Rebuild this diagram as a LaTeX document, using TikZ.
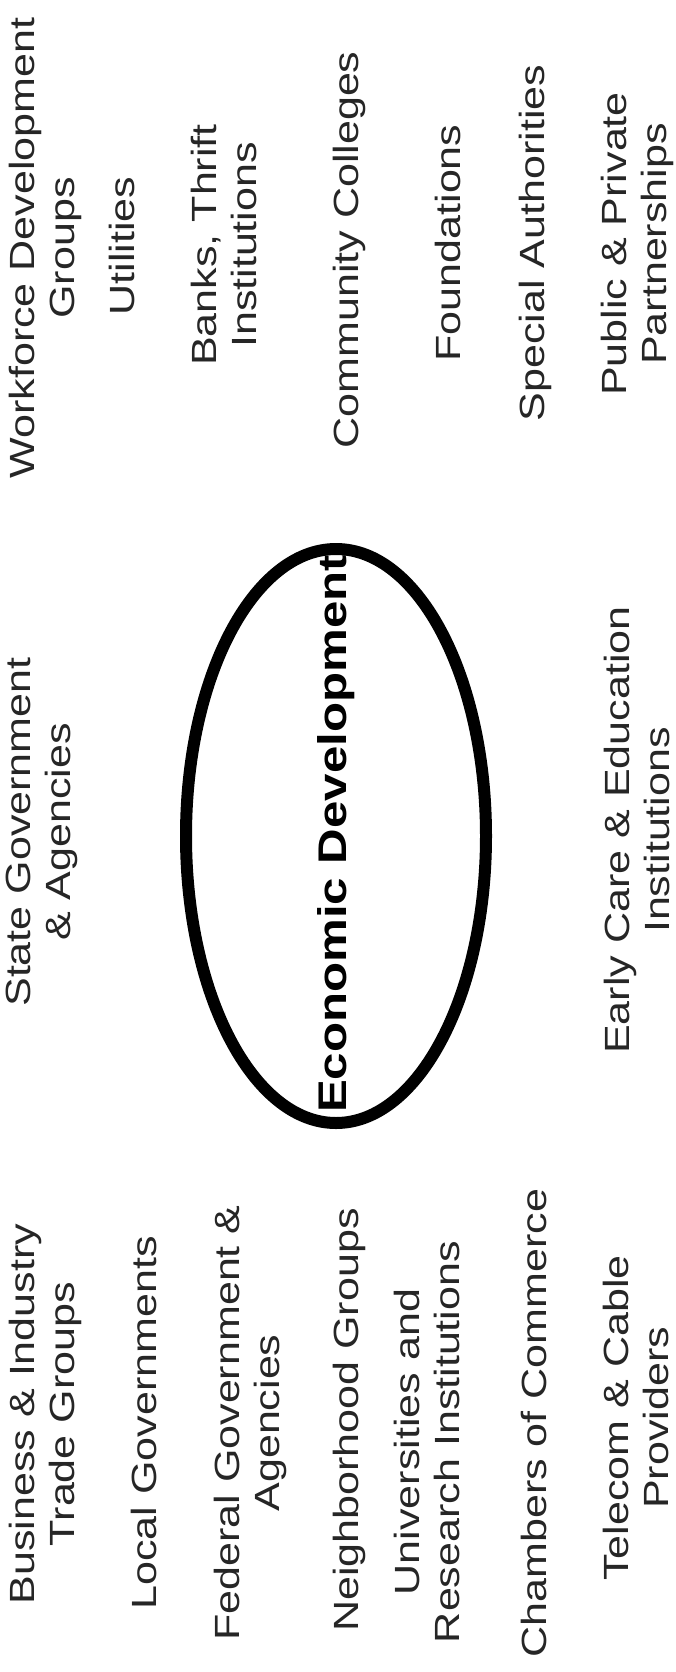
\documentclass[tikz,border=0pt]{standalone}
\usepackage{fontspec}
\newfontfamily\labfont[FakeStretch=1.23]{Liberation Sans}
\usetikzlibrary{shapes.geometric}
\begin{document}
\begin{tikzpicture}[x=1pt,y=-1pt,
  lab/.style={rotate=90, align=center, inner sep=0pt, text=black!85,
    font=\labfont\fontsize{35}{40}\selectfont},
  hub/.style={draw=black, ellipse, line width=12pt, minimum width=300pt,
    minimum height=574pt, inner sep=0pt},
  hubtext/.style={rotate=90, inner sep=0pt, text=black,
    font=\labfont\bfseries\fontsize{40}{46}\selectfont}]
\path[use as bounding box] (0,0) rectangle (676,1672);
% centre
\node[hub] (ell) at (336,836) {};
\node[hubtext] (eco) at (336,834) {Economic Development};
% top group
\node[lab] (wf) at (45,248) {Workforce Development\\Groups};
\node[lab] (ut) at (122,246) {Utilities};
\node[lab] (bk) at (224,245) {Banks, Thrift\\Institutions};
\node[lab] (cc) at (349,250) {Community Colleges};
\node[lab] (fd) at (448,243) {Foundations};
\node[lab] (sa) at (535,243) {Special Authorities};
\node[lab] (pp) at (637,244) {Public \& Private\\Partnerships};
% middle group
\node[lab] (sg) at (42,832) {State Government\\\& Agencies};
\node[lab] (ec) at (637,830) {Early Care \& Education\\Institutions};
% bottom group
\node[lab] (bi) at (45,1414) {Business \& Industry\\Trade Groups};
\node[lab] (lg) at (144,1423) {Local Governments};
\node[lab] (fg) at (250,1423) {Federal Government \&\\Agencies};
\node[lab] (nb) at (349,1420) {Neighborhood Groups};
\node[lab] (un) at (427,1442) {Universities and\\Research Institutions};
\node[lab] (ch) at (534,1423) {Chambers of Commerce};
\node[lab] (tc) at (636,1418) {Telecom \& Cable\\Providers};
\end{tikzpicture}
\end{document}
